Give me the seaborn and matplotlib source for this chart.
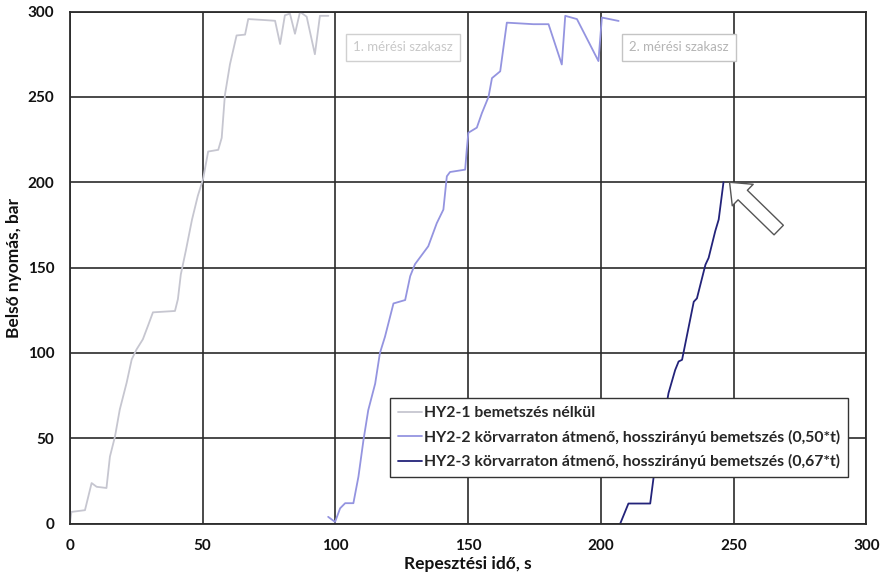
import numpy as np
import pandas as pd
import matplotlib
matplotlib.use("Agg")
import matplotlib.pyplot as plt
import seaborn as sns

# ---- data ----
s1_x = [0, 0.6, 5.7, 8.2, 10.1, 13.8, 15.1, 17.0, 18.8, 21.4, 23.3, 25.1, 27.5, 29.4, 31.3,
        39.6, 40.7, 41.8, 43.7, 46.0, 48.2, 50.2, 52.1, 55.9, 57.2, 58.4, 60.3, 62.8, 66.0,
        67.2, 73.5, 77.3, 79.2, 81.0, 82.9, 84.8, 86.7, 89.2, 92.3, 94.2, 97.4]
s1_y = [0, 6.9, 7.9, 23.8, 21.6, 20.9, 39.3, 51, 66.8, 82.6, 96.2, 102, 108, 115.8, 123.8,
        124.6, 131.5, 146, 160, 178, 192, 202, 218, 219, 226, 251, 269, 286, 286.5,
        295.6, 295, 294.6, 281, 297.8, 298.8, 287, 299.8, 297, 275, 297.5, 297.5]

s2_x = [97.3, 99.9, 101.8, 103.7, 106.8, 108.7, 110.6, 112.4, 115.0, 116.8, 118.7, 121.9,
        126.3, 128.2, 130.0, 135.0, 138.2, 140.7, 142.0, 143.2, 148.9, 149.5, 150.1, 153.3,
        155.2, 157.7, 159.0, 162.1, 164.6, 174.6, 180.3, 185.3, 186.6, 191.0, 199.1, 200.4, 206.7]
s2_y = [4, 1, 9, 12, 12, 27.5, 49, 66.5, 82, 100, 109.5, 129,
        131, 145, 152, 162.5, 176, 184, 203.5, 206, 207.4, 219, 229, 232,
        240.5, 250, 261, 265, 293.5, 292.6, 292.6, 269, 297.5, 295.6, 271, 296.5, 294.5]

s3_x = [207.3, 210.4, 218.6, 219.9, 222.5, 225.5, 228.0, 229.3, 230.6, 235.0, 236.2, 239.4,
        240.6, 243.1, 244.4, 246.2]
s3_y = [0, 11.8, 11.8, 27.4, 50, 76.5, 90, 95, 96, 130, 132, 151.7,
        155.7, 171.4, 178.2, 200]

labels = ["HY2-1 bemetszés nélkül",
          "HY2-2 körvarraton átmenő, hosszirányú bemetszés (0,50*t)",
          "HY2-3 körvarraton átmenő, hosszirányú bemetszés (0,67*t)"]
colors = ["#c6c6d0", "#9494e0", "#23237a"]
xticks = [0, 50, 100, 150, 200, 250, 300]
yticks = [0, 50, 100, 150, 200, 250, 300]
box_texts = ["1. mérési szakasz", "2. mérési szakasz"]

df = pd.concat([
    pd.DataFrame({"t": s1_x, "p": s1_y, "series": labels[0]}),
    pd.DataFrame({"t": s2_x, "p": s2_y, "series": labels[1]}),
    pd.DataFrame({"t": s3_x, "p": s3_y, "series": labels[2]}),
], ignore_index=True)

sns.set_theme(style="white")
plt.rcParams["font.family"] = ["Lato", "DejaVu Sans"]

fig = plt.figure(figsize=(8.84, 5.78), dpi=100)
ax = fig.add_axes([0.079, 0.094, 0.901, 0.886])

sns.lineplot(data=df, x="t", y="p", hue="series", palette=colors, sort=False,
             estimator=None, linewidth=1.3, ax=ax)

ax.set_xlim(0, 300)
ax.set_ylim(0, 300)
ax.set_xticks(xticks)
ax.set_yticks(yticks)
ax.grid(True, color="#2b2b2b", linewidth=1.2)
ax.set_axisbelow(True)
for sp in ax.spines.values():
    sp.set_color("#2b2b2b")
    sp.set_linewidth(1.3)
ax.tick_params(axis="both", direction="out", length=5, width=1.2, color="#2b2b2b",
               labelsize=11, pad=6)
for lab in ax.get_xticklabels() + ax.get_yticklabels():
    lab.set_fontweight("bold")
    lab.set_color("#111111")

ax.set_xlabel("Repesztési idő, s", fontsize=12.5, fontweight="bold", color="#111111", labelpad=2)
ax.set_ylabel("Belső nyomás, bar", fontsize=12.5, fontweight="bold", color="#111111", labelpad=4)

leg = ax.legend(loc="lower right", bbox_to_anchor=(0.977, 0.091), frameon=True,
                fancybox=False, framealpha=1, edgecolor="#333333",
                prop={"weight": "bold", "size": 11.3}, handlelength=1.5,
                handletextpad=0.15, borderpad=0.5, labelspacing=0.6, borderaxespad=0)
leg.get_frame().set_linewidth(1.0)
for h in leg.get_lines():
    h.set_linewidth(1.3)

# faint labelled boxes at the top
ax.text(125.5, 279, box_texts[0], ha="center", va="center", fontsize=9.5, color="#c8c8c8",
        bbox=dict(boxstyle="square,pad=0.55", fc="white", ec="#d0d0d0", lw=1.0))
ax.text(229.5, 279, box_texts[1], ha="center", va="center", fontsize=9.5, color="#b4b4b4",
        bbox=dict(boxstyle="square,pad=0.55", fc="white", ec="#c4c4c4", lw=1.0))

# outlined block arrow pointing to the end of HY2-3
ax.annotate("", xy=(248.5, 200), xytext=(267, 172),
            arrowprops=dict(arrowstyle="simple,head_length=1.1,head_width=1.8,tail_width=0.8",
                            fc="white", ec="#555555", lw=1.0, shrinkA=0, shrinkB=0))

fig.savefig("out.png", dpi=100)
